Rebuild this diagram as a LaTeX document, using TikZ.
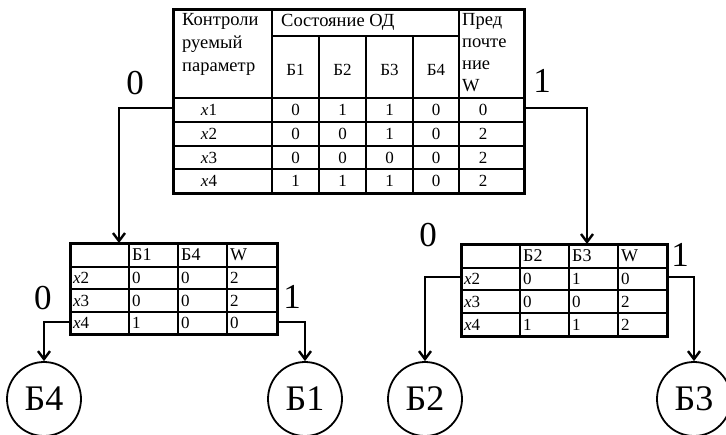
\documentclass[tikz,border=0pt]{standalone}
\usepackage{fontspec}
\setmainfont{Liberation Serif}
\usetikzlibrary{arrows.meta}

\begin{document}
\begin{tikzpicture}[x=1pt,y=-1pt,
	tbl/.style={draw, line width=3pt, inner sep=0pt, outer sep=0pt},
	grid/.style={line width=1.8pt},
	link/.style={line width=2.6pt, -{Straight Barb[length=8pt,width=12pt,line width=2.4pt]}},
	leaf/.style={draw, circle, line width=1.8pt, minimum size=74pt, inner sep=0pt, font=\fontsize{36}{36}\selectfont},
	big/.style={font=\fontsize{35}{35}\selectfont},
	cell/.style={font=\fontsize{17}{20}\selectfont, inner sep=0pt},
	head/.style={font=\fontsize{18.5}{23}\selectfont, inner sep=0pt}]
	\useasboundingbox (0,0) rectangle (726,434);

	% main table
	\node[tbl, minimum width=351pt, minimum height=184pt] (main) at (348.5,101) {};
	\foreach \x in {272,459} \draw[grid] (\x,9) -- (\x,193);
	\foreach \x in {319,366,413} \draw[grid] (\x,36) -- (\x,193);
	\draw[grid] (272,36) -- (459,36);
	\foreach \y in {98,122,146,169} \draw[grid] (173,\y) -- (524,\y);
	\node[head, align=left, anchor=north west] (hpar) at (182,13) {Контроли\\руемый\\параметр};
	\node[head, anchor=west] (hsost) at (281,22) {Состояние ОД};
	\node[head, font=\fontsize{18.5}{22}\selectfont, align=left, anchor=north west] (hpref) at (462,13) {Пред\\почте\\ние\\W};
	\foreach \i/\x in {1/295.5,2/342.5,3/389.5,4/436}
		\node[head, font=\fontsize{17}{20}\selectfont] (hb\i) at (\x,70) {Б\i};
	\foreach \y/\n/\a/\b/\c/\d/\w in {110/1/0/1/1/0/0, 134/2/0/0/1/0/2, 157.5/3/0/0/0/0/2, 181/4/1/1/1/0/2} {
		\node[cell] (mx\n) at (209,\y) {\textit{x}\n};
		\node[cell] (ma\n) at (295.5,\y) {\a};
		\node[cell] (mb\n) at (342.5,\y) {\b};
		\node[cell] (mc\n) at (389.5,\y) {\c};
		\node[cell] (md\n) at (436,\y) {\d};
		\node[cell] (mw\n) at (483,\y) {\w};
	}

	% lower left table
	\node[tbl, minimum width=207pt, minimum height=91pt] (lt) at (173.5,288.5) {};
	\foreach \x in {129,178,227} \draw[grid] (\x,243) -- (\x,334);
	\foreach \y in {267,289,312} \draw[grid] (70,\y) -- (277,\y);
	\node[cell, font=\fontsize{18}{20}\selectfont, anchor=west] (lh1) at (132,255) {Б1};
	\node[cell, font=\fontsize{18}{20}\selectfont, anchor=west] (lh2) at (181,255) {Б4};
	\node[cell, font=\fontsize{18}{20}\selectfont, anchor=west] (lh3) at (230,255) {W};
	\foreach \y/\n/\a/\b/\w in {278/2/0/0/2, 300.5/3/0/0/2, 323/4/1/0/0} {
		\node[cell, anchor=west] (lx\n) at (73,\y) {\textit{x}\n};
		\node[cell, anchor=west] (la\n) at (132,\y) {\a};
		\node[cell, anchor=west] (lb\n) at (181,\y) {\b};
		\node[cell, anchor=west] (lw\n) at (230,\y) {\w};
	}

	% lower right table
	\node[tbl, minimum width=206pt, minimum height=92pt] (rt) at (564,290) {};
	\foreach \x in {520,569,618} \draw[grid] (\x,244) -- (\x,336);
	\foreach \y in {268,290,313} \draw[grid] (461,\y) -- (667,\y);
	\node[cell, font=\fontsize{18}{20}\selectfont, anchor=west] (rh1) at (523,256) {Б2};
	\node[cell, font=\fontsize{18}{20}\selectfont, anchor=west] (rh2) at (572,256) {Б3};
	\node[cell, font=\fontsize{18}{20}\selectfont, anchor=west] (rh3) at (621,256) {W};
	\foreach \y/\n/\a/\b/\w in {279/2/0/1/0, 301.5/3/0/0/2, 324.5/4/1/1/2} {
		\node[cell, anchor=west] (rx\n) at (464,\y) {\textit{x}\n};
		\node[cell, anchor=west] (ra\n) at (523,\y) {\a};
		\node[cell, anchor=west] (rb\n) at (572,\y) {\b};
		\node[cell, anchor=west] (rw\n) at (621,\y) {\w};
	}

	% leaves
	\node[leaf] (b4) at (44,399) {Б4};
	\node[leaf] (b1) at (305,399) {Б1};
	\node[leaf] (b2) at (425,399) {Б2};
	\node[leaf] (b3) at (694,399) {Б3};

	% branches
	\draw[link] (main.west |- 0,108) -| (lt.north -| 119,0);
	\draw[link] (main.east |- 0,108) -| (rt.north -| 587,0);
	\draw[link] (lt.west |- 0,322) -| (b4.north);
	\draw[link] (lt.east |- 0,322) -| (b1.north);
	\draw[link] (rt.west |- 0,277) -| (b2.north);
	\draw[link] (rt.east |- 0,277) -| (b3.north);
	\node[big] (m0) at (135,83) {0};
	\node[big] (m1) at (542,81) {1};
	\node[big] (l0) at (43,298) {0};
	\node[big] (l1) at (292,297) {1};
	\node[big] (r0) at (428,235) {0};
	\node[big] (r1) at (680,255) {1};
\end{tikzpicture}
\end{document}
